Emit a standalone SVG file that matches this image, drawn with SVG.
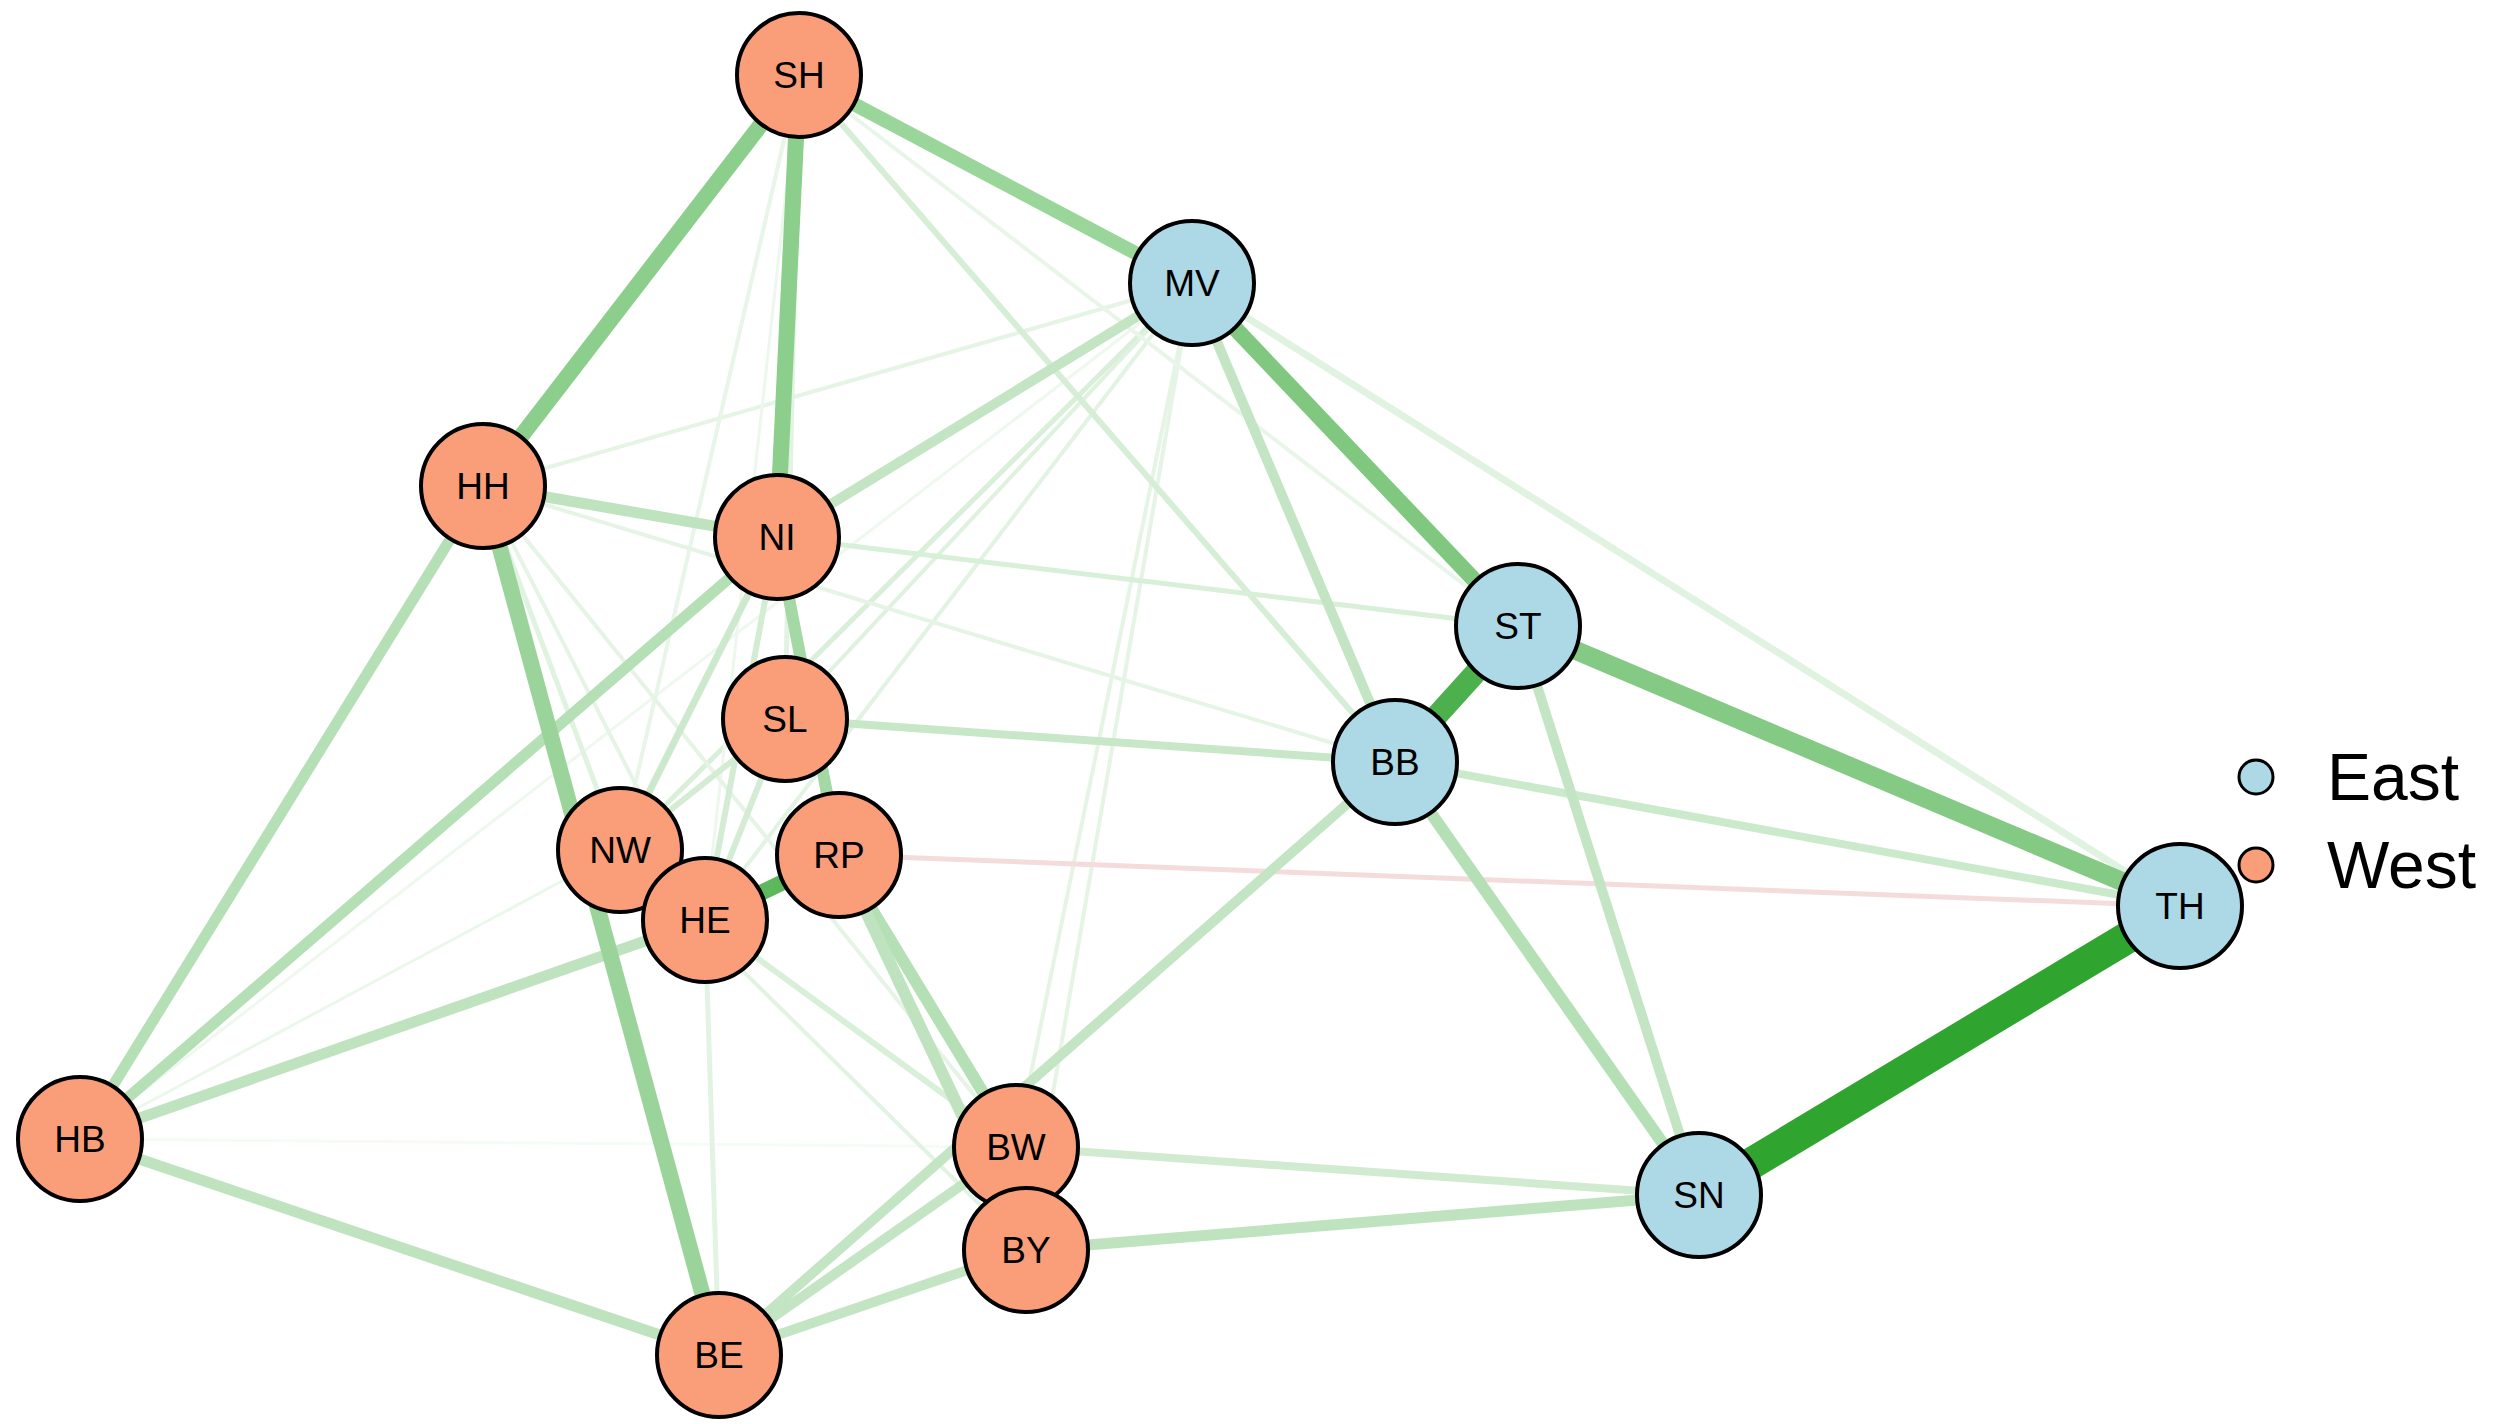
<svg xmlns="http://www.w3.org/2000/svg" width="2493" height="1424" viewBox="0 0 2493 1424">
<style>
.n circle{stroke:#000;stroke-width:4}
.w circle{fill:#fa9e79}
.e circle{fill:#add8e6}
text{font-family:"Liberation Sans",Arial,sans-serif;text-anchor:middle}
.n text{font-size:37px}
line{stroke-linecap:butt}
</style>
<rect width="2493" height="1424" fill="#fff"/>
<g id="connectors">
<line x1="80" y1="1139" x2="1016" y2="1147" stroke="#f5fbf5" stroke-width="3"/>
<line x1="483" y1="486" x2="1192" y2="283" stroke="#e6f4e6" stroke-width="4"/>
<line x1="620" y1="850" x2="1192" y2="283" stroke="#d8efd8" stroke-width="5"/>
<line x1="705" y1="920" x2="1192" y2="283" stroke="#e3f3e3" stroke-width="4"/>
<line x1="1026" y1="1250" x2="1192" y2="283" stroke="#e6f4e6" stroke-width="4"/>
<line x1="1016" y1="1147" x2="1192" y2="283" stroke="#e6f4e6" stroke-width="4"/>
<line x1="785" y1="719" x2="1192" y2="283" stroke="#dff1df" stroke-width="4"/>
<line x1="80" y1="1139" x2="1192" y2="283" stroke="#eef8ee" stroke-width="3"/>
<line x1="799" y1="75" x2="1395" y2="762" stroke="#d6eed6" stroke-width="6"/>
<line x1="799" y1="75" x2="1518" y2="626" stroke="#e8f5e8" stroke-width="4"/>
<line x1="799" y1="75" x2="785" y2="719" stroke="#e3f3e3" stroke-width="5"/>
<line x1="799" y1="75" x2="620" y2="850" stroke="#e8f5e8" stroke-width="4"/>
<line x1="799" y1="75" x2="705" y2="920" stroke="#edf7ed" stroke-width="3"/>
<line x1="777" y1="537" x2="1518" y2="626" stroke="#d8efd8" stroke-width="5"/>
<line x1="483" y1="486" x2="1395" y2="762" stroke="#e6f4e6" stroke-width="4"/>
<line x1="483" y1="486" x2="620" y2="850" stroke="#e0f2e0" stroke-width="5"/>
<line x1="483" y1="486" x2="705" y2="920" stroke="#e6f4e6" stroke-width="4"/>
<line x1="483" y1="486" x2="1016" y2="1147" stroke="#e6f4e6" stroke-width="4"/>
<line x1="483" y1="486" x2="80" y2="1139" stroke="#f2faf2" stroke-width="3"/>
<line x1="705" y1="920" x2="719" y2="1355" stroke="#e3f3e3" stroke-width="5"/>
<line x1="705" y1="920" x2="1016" y2="1147" stroke="#d8efd8" stroke-width="6"/>
<line x1="620" y1="850" x2="1026" y2="1250" stroke="#e3f3e3" stroke-width="4"/>
<line x1="620" y1="850" x2="80" y2="1139" stroke="#ecf7ec" stroke-width="3"/>
<line x1="777" y1="537" x2="620" y2="850" stroke="#cde9cd" stroke-width="7"/>
<line x1="777" y1="537" x2="705" y2="920" stroke="#d3ecd3" stroke-width="6"/>
<line x1="785" y1="719" x2="620" y2="850" stroke="#d3ecd3" stroke-width="6"/>
<line x1="785" y1="719" x2="705" y2="920" stroke="#d3ecd3" stroke-width="6"/>
<line x1="1192" y1="283" x2="2180" y2="906" stroke="#e0f2e0" stroke-width="7"/>
<line x1="839" y1="855" x2="2180" y2="906" stroke="#f5dcdc" stroke-width="5"/>
<line x1="1395" y1="762" x2="2180" y2="906" stroke="#cbe9cb" stroke-width="8"/>
<line x1="785" y1="719" x2="1395" y2="762" stroke="#c8e7c8" stroke-width="8"/>
<line x1="1016" y1="1147" x2="1699" y2="1195" stroke="#d0ebd0" stroke-width="8"/>
<line x1="1026" y1="1250" x2="1699" y2="1195" stroke="#bfe3bf" stroke-width="11"/>
<line x1="719" y1="1355" x2="1395" y2="762" stroke="#c3e5c3" stroke-width="10"/>
<line x1="719" y1="1355" x2="1016" y2="1147" stroke="#c3e5c3" stroke-width="10"/>
<line x1="719" y1="1355" x2="1026" y2="1250" stroke="#c3e5c3" stroke-width="10"/>
<line x1="80" y1="1139" x2="719" y2="1355" stroke="#bfe3bf" stroke-width="11"/>
<line x1="80" y1="1139" x2="705" y2="920" stroke="#bfe3bf" stroke-width="11"/>
<line x1="80" y1="1139" x2="777" y2="537" stroke="#b5dfb5" stroke-width="11"/>
<line x1="80" y1="1139" x2="483" y2="486" stroke="#b5dfb5" stroke-width="11"/>
<line x1="483" y1="486" x2="777" y2="537" stroke="#bfe3bf" stroke-width="11"/>
<line x1="777" y1="537" x2="1192" y2="283" stroke="#c3e5c3" stroke-width="10"/>
<line x1="1395" y1="762" x2="1192" y2="283" stroke="#c3e5c3" stroke-width="10"/>
<line x1="1395" y1="762" x2="1699" y2="1195" stroke="#b5dfb5" stroke-width="12"/>
<line x1="1518" y1="626" x2="1699" y2="1195" stroke="#c3e5c3" stroke-width="10"/>
<line x1="839" y1="855" x2="1016" y2="1147" stroke="#b5dfb5" stroke-width="12"/>
<line x1="839" y1="855" x2="1026" y2="1250" stroke="#bfe3bf" stroke-width="12"/>
<line x1="777" y1="537" x2="839" y2="855" stroke="#a4d8a4" stroke-width="12"/>
<line x1="483" y1="486" x2="719" y2="1355" stroke="#9bd49b" stroke-width="16"/>
<line x1="799" y1="75" x2="1192" y2="283" stroke="#9ad59a" stroke-width="14"/>
<line x1="799" y1="75" x2="777" y2="537" stroke="#8ccf8c" stroke-width="16"/>
<line x1="799" y1="75" x2="483" y2="486" stroke="#8ccf8c" stroke-width="16"/>
<line x1="1192" y1="283" x2="1518" y2="626" stroke="#80c880" stroke-width="16"/>
<line x1="1518" y1="626" x2="2180" y2="906" stroke="#84ca84" stroke-width="19"/>
<line x1="705" y1="920" x2="839" y2="855" stroke="#5db75d" stroke-width="16"/>
<line x1="1395" y1="762" x2="1518" y2="626" stroke="#4cb04c" stroke-width="22"/>
<line x1="1699" y1="1195" x2="2180" y2="906" stroke="#2fa52f" stroke-width="32"/>
</g>
<g id="SH" class="n w"><circle cx="799" cy="75" r="62"/><text x="799" y="88">SH</text></g>
<g id="MV" class="n e"><circle cx="1192" cy="283" r="62"/><text x="1192" y="296">MV</text></g>
<g id="HH" class="n w"><circle cx="483" cy="486" r="62"/><text x="483" y="499">HH</text></g>
<g id="NI" class="n w"><circle cx="777" cy="537" r="62"/><text x="777" y="550">NI</text></g>
<g id="ST" class="n e"><circle cx="1518" cy="626" r="62"/><text x="1518" y="639">ST</text></g>
<g id="SL" class="n w"><circle cx="785" cy="719" r="62"/><text x="785" y="732">SL</text></g>
<g id="BB" class="n e"><circle cx="1395" cy="762" r="62"/><text x="1395" y="775">BB</text></g>
<g id="NW" class="n w"><circle cx="620" cy="850" r="62"/><text x="620" y="863">NW</text></g>
<g id="HE" class="n w"><circle cx="705" cy="920" r="62"/><text x="705" y="933">HE</text></g>
<g id="RP" class="n w"><circle cx="839" cy="855" r="62"/><text x="839" y="868">RP</text></g>
<g id="TH" class="n e"><circle cx="2180" cy="906" r="62"/><text x="2180" y="919">TH</text></g>
<g id="HB" class="n w"><circle cx="80" cy="1139" r="62"/><text x="80" y="1152">HB</text></g>
<g id="BW" class="n w"><circle cx="1016" cy="1147" r="62"/><text x="1016" y="1160">BW</text></g>
<g id="SN" class="n e"><circle cx="1699" cy="1195" r="62"/><text x="1699" y="1208">SN</text></g>
<g id="BY" class="n w"><circle cx="1026" cy="1250" r="62"/><text x="1026" y="1263">BY</text></g>
<g id="BE" class="n w"><circle cx="719" cy="1355" r="62"/><text x="719" y="1368">BE</text></g>
<g id="legend">
<circle cx="2256" cy="777" r="17" fill="#add8e6" stroke="#000" stroke-width="3"/>
<circle cx="2256" cy="865" r="17" fill="#fa9e79" stroke="#000" stroke-width="3"/>
<text x="2327" y="800" style="text-anchor:start;font-size:66px">East</text>
<text x="2327" y="888" style="text-anchor:start;font-size:66px">West</text>
</g>
</svg>
